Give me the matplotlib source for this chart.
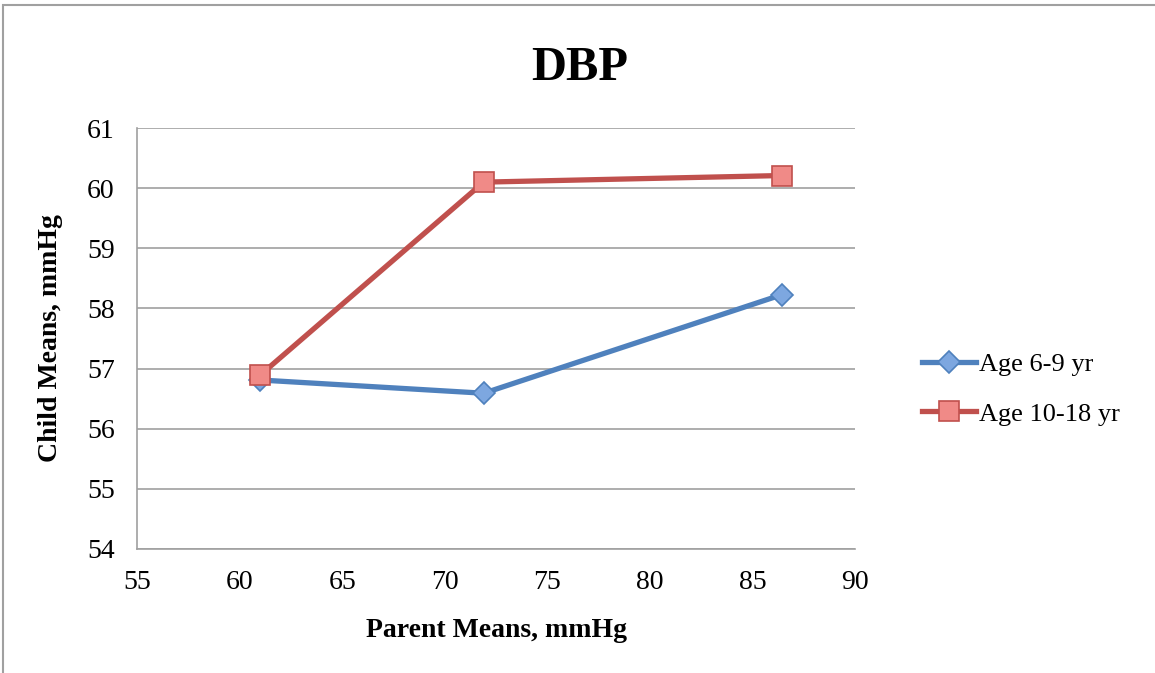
import matplotlib
matplotlib.use('Agg')
import matplotlib.pyplot as plt
from matplotlib.patches import Rectangle

plt.rcParams['font.family'] = ['Liberation Serif', 'DejaVu Serif']

parent_means = [61.0, 71.9, 86.45]
age_6_9 = [56.81, 56.59, 58.23]
age_10_18 = [56.89, 60.10, 60.21]
labels = ['Age 6-9 yr', 'Age 10-18 yr']

fig = plt.figure(figsize=(11.55, 6.73), dpi=100)
# outer chart frame
fig.patches.append(Rectangle((3 / 1155, -0.1), 1.2, 1 - 5 / 673 + 0.1, transform=fig.transFigure,
                             fill=False, edgecolor='#a0a0a0', linewidth=1.5))
ax = fig.add_axes([137 / 1155, 1 - 549 / 673, (855 - 137) / 1155, (549 - 128) / 673])

ax.plot(parent_means, age_6_9, color='#4f81bd', linewidth=3.8, marker='D', markersize=11,
        markerfacecolor='#7da7e0', markeredgecolor='#4f81bd', markeredgewidth=1.2,
        label=labels[0], zorder=3)
ax.plot(parent_means, age_10_18, color='#c0504d', linewidth=3.8, marker='s', markersize=14,
        markerfacecolor='#f08a87', markeredgecolor='#c0504d', markeredgewidth=1.2,
        label=labels[1], zorder=3)

ax.set_xlim(55, 90)
ax.set_ylim(54, 61)
ax.set_xticks(range(55, 91, 5))
ax.set_yticks(range(54, 62))
ax.grid(axis='y', color='#a0a0a0', linewidth=1.2)
ax.set_axisbelow(True)
for s in ['top', 'right']:
    ax.spines[s].set_visible(False)
for s in ['left', 'bottom']:
    ax.spines[s].set_color('#a0a0a0')
    ax.spines[s].set_linewidth(1.2)
ax.tick_params(length=0, labelsize=20)
ax.tick_params(axis='x', pad=15)
ax.tick_params(axis='y', pad=16)

fig.text(580 / 1155, 1 - 68 / 673, 'DBP', fontsize=35, fontweight='bold', ha='center', va='center')
ax.set_xlabel('Parent Means, mmHg', fontsize=20, fontweight='bold', labelpad=17)
ax.set_ylabel('Child Means, mmHg', fontsize=20, fontweight='bold', labelpad=17)

ax.legend(loc='center left', bbox_to_anchor=(1.06, 0.38), frameon=False, fontsize=19,
          handlelength=2.05, handletextpad=0.1, labelspacing=1.0)

fig.savefig('out.png', dpi=100)
